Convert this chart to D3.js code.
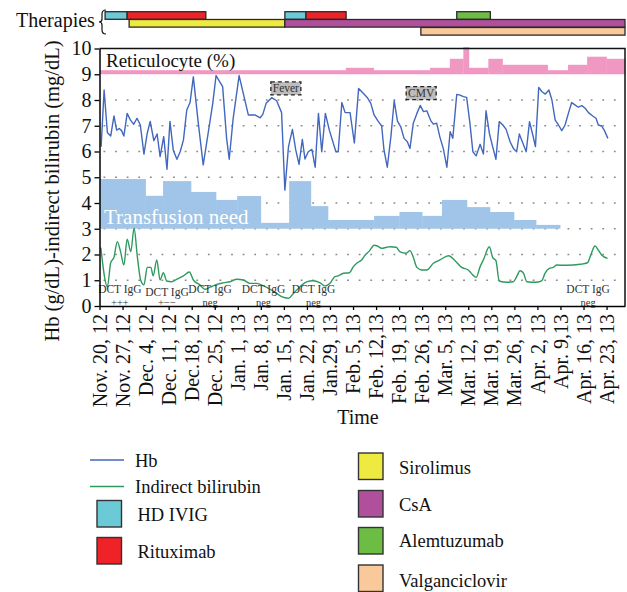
<!DOCTYPE html>
<html>
<head>
<meta charset="utf-8">
<script src="https://cdn.jsdelivr.net/npm/d3@7.9.0/dist/d3.min.js"></script>
<style>
  body { margin: 0; background: #fff; }
  svg { display: block; }
  svg text { font-family: "Liberation Serif", "DejaVu Serif", serif; }
</style>
</head>
<body>
<svg id="chart" width="627" height="592"></svg>
<script>
// ---- data (days counted from Nov. 20, 2012) ----
const START = Date.UTC(2012, 10, 20);
const END_DAY = 159.6;

const xTickLabels = ['Nov. 20, 12', 'Nov. 27, 12', 'Dec. 4, 12', 'Dec. 11, 12', 'Dec.18, 12', 'Dec. 25, 12',
  'Jan. 1, 13', 'Jan. 8, 13', 'Jan. 15, 13', 'Jan. 22, 13', 'Jan.29, 13', 'Feb. 5, 13', 'Feb. 12,13',
  'Feb. 19, 13', 'Feb. 26, 13', 'Mar. 5, 13', 'Mar. 12, 13', 'Mar. 19, 13', 'Mar. 26, 13', 'Apr. 2, 13',
  'Apr. 9,13', 'Apr. 16, 13', 'Apr. 23, 13'];
const yTicks = [0, 1, 2, 3, 4, 5, 6, 7, 8, 9, 10];

const hbDays = [0.5, 1.4, 2.4, 3.4, 4.4, 5.2, 6.0, 6.7, 7.4, 8.4, 9.4, 10.4, 11.4, 12.4, 13.5, 14.5, 15.4, 16.5,
  17.5, 18.4, 19.5, 20.5, 21.4, 22.4, 23.5, 24.5, 25.5, 26.5, 27.5, 28.5, 30.0, 31.5, 33.0, 34.4, 35.4, 37.4,
  38.6, 39.4, 40.6, 42.4, 43.9, 45.2, 47.2, 48.8, 49.6, 50.6, 52.3, 53.8, 55.3, 56.3, 57.4, 58.6, 59.6, 60.6,
  61.6, 62.4, 63.4, 64.5, 65.5, 66.5, 67.5, 68.6, 69.8, 71.8, 72.5, 73.6, 74.6, 76.1, 77.4, 78.7, 80.1, 81.3,
  82.4, 83.4, 84.7, 85.7, 86.4, 87.4, 88.5, 89.5, 90.5, 91.5, 92.5, 93.5, 94.3, 95.3, 96.4, 97.4, 98.4, 99.4,
  100.6, 101.4, 102.4, 103.4, 104.4, 105.5, 106.5, 107.3, 108.5, 109.5, 110.5, 111.5, 112.5, 113.4, 114.4,
  115.6, 116.6, 117.4, 118.4, 119.4, 120.4, 121.4, 122.5, 123.5, 124.7, 125.7, 126.7, 127.5, 128.6, 129.6,
  130.6, 131.6, 132.4, 133.4, 134.4, 135.4, 136.5, 137.4, 138.4, 139.4, 140.4, 141.4, 142.4, 143.4, 144.4,
  145.4, 146.5, 147.5, 148.5, 149.8, 150.8, 151.5, 152.5, 153.3, 154.4];
const hbValues = [6.19, 8.39, 6.73, 6.6, 7.38, 6.83, 6.89, 6.81, 6.6, 7.48, 7.22, 7.06, 7.29, 7.03, 5.9, 6.71, 7.17, 6.42,
  6.68, 5.8, 6.58, 5.31, 7.17, 6.06, 5.7, 5.99, 6.45, 7.61, 7.9, 8.9, 7.1, 5.48, 6.71, 7.87, 8.95, 8.52,
  6.51, 5.7, 7.29, 8.95, 8.13, 7.42, 7.42, 7.31, 7.44, 7.87, 8.09, 7.97, 7.51, 4.5, 6.19, 6.86, 6.06, 5.5,
  6.47, 5.71, 5.99, 6.08, 5.39, 7.48, 5.99, 7.48, 6.83, 5.99, 5.99, 7.9, 7.51, 7.51, 6.33, 8.45, 8.26, 8.1,
  7.87, 7.42, 7.16, 6.99, 6.06, 5.39, 6.58, 7.97, 7.18, 6.96, 6.51, 6.38, 6.12, 7.1, 7.48, 7.79, 7.55, 7.58,
  7.2, 7.06, 7.1, 6.55, 6.12, 5.39, 6.77, 6.51, 8.22, 8.19, 8.13, 8.1, 7.1, 5.99, 5.83,
  6.28, 5.9, 7.58, 6.71, 6.19, 5.7, 7.16, 7.03, 6.86, 6.38, 6.12, 5.99, 6.68, 6.32, 5.99,
  7.16, 6.64, 6.19, 8.49, 8.32, 8.23, 8.39, 8.0, 7.22, 7.03, 6.81, 7.03, 7.48, 7.9, 7.81,
  7.72, 7.78, 7.68, 7.51, 7.38, 7.29, 7.03, 6.99, 6.83, 6.51];

const biliDays = [0.4, 2.4, 3.4, 4.4, 5.4, 6.4, 7.4, 8.4, 9.5, 10.5, 11.5, 12.5, 13.5, 14.5, 15.6, 16.3, 17.4, 18.4,
  19.4, 20.4, 21.9, 23.5, 25.5, 27.3, 28.5, 30.5, 32.0, 33.6, 35.6, 37.6, 39.6, 41.7, 43.7, 45.7, 47.8, 49.8,
  51.8, 53.8, 55.3, 57.4, 58.9, 60.9, 62.9, 64.9, 67.0, 68.5, 70.0, 71.5, 72.5, 74.1, 75.9, 77.1, 78.3, 79.6,
  80.7, 82.0, 83.4, 84.4, 85.7, 87.2, 88.2, 90.1, 91.3, 93.1, 94.3, 95.3, 96.4, 97.9, 99.4, 101.4, 103.4,
  106.0, 108.0, 110.0, 112.0, 113.4, 114.4, 115.6, 116.6, 118.4, 119.4, 120.4, 121.4, 123.7, 125.7, 126.7,
  127.7, 128.7, 129.8, 132.3, 134.3, 135.3, 136.6, 137.8, 138.9, 141.9, 146.0, 148.2, 149.2, 150.5, 151.5,
  152.5, 154.3];
const biliValues = [2.27, 0.75, 1.68, 1.89, 2.5, 2.11, 1.59, 2.59, 2.11, 3.02, 1.91, 1.01, 0.82, 1.5, 1.5, 1.17, 1.79, 1.01,
  1.29, 0.97, 0.94, 1.04, 1.17, 1.32, 1.01, 0.82, 0.65, 0.73, 0.84, 0.9, 0.94, 1.04, 1.01, 0.88, 0.88, 0.78,
  0.65, 0.49, 0.36, 0.3, 0.49, 0.75, 0.94, 0.98, 0.9, 0.78, 0.88, 1.14, 1.17, 1.27, 1.29, 1.53, 1.68, 1.79,
  1.98, 2.14, 2.36, 2.33, 2.24, 2.28, 2.3, 2.28, 2.1, 2.05, 2.15, 1.89, 1.5, 1.4, 1.4, 1.66, 1.79,
  1.95, 1.76, 1.5, 1.4, 1.2, 1.11, 1.53, 1.79, 2.3, 1.89, 1.76, 0.97, 0.92, 0.94, 1.14,
  1.37, 1.29, 0.94, 0.92, 0.98, 1.27, 1.46, 1.5, 1.59, 1.58, 1.62, 1.68, 1.98, 2.33, 2.17,
  1.98, 1.85];

// transfusion need: step blocks sitting on 3, each starts at a day and lasts to the next
const transfusionDays = [0, 14, 19.3, 27.8, 35.4, 41.8, 49, 57.6, 64.2, 69.4, 83.4, 91.1, 98, 104, 111.6, 118.6, 125.9, 132.6, 139.9];
const transfusionValues = [4.93, 4.28, 4.85, 4.43, 4.12, 4.27, 3.23, 4.85, 3.88, 3.34, 3.5, 3.65, 3.5, 4.12, 3.84, 3.65, 3.34, 3.15];
const TRANSFUSION_BASE = 3;

// reticulocyte (%): step blocks sitting on 9
const reticDays = [0, 74.8, 83.3, 100.4, 106.4, 110.5, 112.2, 118.1, 122.4, 136.1, 142.3, 148.1, 154, END_DAY];
const reticValues = [2.7, 4.3, 2.7, 4.3, 10.3, 18.1, 4.3, 10.3, 6.3, 2.7, 6.3, 11.7, 10.3];
const RETIC_BASE = 9;

const therapyNames = ['HD IVIG', 'Rituximab', 'HD IVIG', 'Rituximab', 'Alemtuzumab', 'Sirolimus', 'CsA', 'Valganciclovir'];
const therapyStart = [1.7, 8.4, 56.3, 62.7, 108.5, 9.0, 56.3, 97.6];
const therapyEnd = [8.4, 32.3, 62.7, 74.9, 118.7, 56.3, END_DAY, END_DAY];

const dctDays = [6.2, 20.5, 33.6, 49.8, 65, 148.4];
const dctResults = ['+++', '+\u2212\u2212', 'neg', 'neg', 'neg', 'neg'];
const noteDays = [56.6, 97.7];
const noteValues = [8.45, 8.27];
const noteTexts = ['Fever', 'CMV'];

// ---- styles / layout ----
const FONT = '"Liberation Serif", "DejaVu Serif", serif';
const colors = {
  'HD IVIG': '#6ccad7', 'Rituximab': '#ee2227', 'Sirolimus': '#efea40', 'CsA': '#b0509d',
  'Alemtuzumab': '#6dbd45', 'Valganciclovir': '#f9c99b',
  hb: '#4267be', bili: '#2e9a5e', retic: '#f198c2', transfusion: '#a0c5e9'
};
const lane = { 'HD IVIG': 0, 'Rituximab': 0, 'Alemtuzumab': 0, 'Sirolimus': 1, 'CsA': 1, 'Valganciclovir': 2 };

const dayToDate = d => new Date(START + d * 864e5);

const svg = d3.select('#chart').attr('font-family', FONT);
const x = d3.scaleUtc().domain([dayToDate(0), dayToDate(END_DAY)]).range([99.5, 625]);
const y = d3.scaleLinear().domain([0, 10]).range([306, 48.5]);
const yRetic = d3.scaleLinear().domain([0, 20]).range([y(RETIC_BASE), y(RETIC_BASE) - 30]);
const [x0, x1] = x.range();

// dotted grid
svg.append('g').selectAll('line').data(d3.range(1, 9)).join('line')
  .attr('x1', x0 + 4).attr('x2', x1 - 4)
  .attr('y1', d => y(d)).attr('y2', d => y(d))
  .attr('stroke', '#8a8a8a').attr('stroke-width', 1.6)
  .attr('stroke-dasharray', '1.8,9.8');

// reticulocyte steps
const reticData = reticValues.map((v, i) => ({ a: reticDays[i], b: reticDays[i + 1], v }));
svg.append('g').selectAll('rect').data(reticData).join('rect')
  .attr('x', d => x(dayToDate(d.a))).attr('width', d => x(dayToDate(d.b)) - x(dayToDate(d.a)) + 0.3)
  .attr('y', d => yRetic(d.v)).attr('height', d => yRetic(0) - yRetic(d.v))
  .attr('fill', colors.retic);

// transfusion need steps
const tfData = transfusionValues.map((v, i) => ({ a: transfusionDays[i], b: transfusionDays[i + 1], v }));
svg.append('g').selectAll('rect').data(tfData).join('rect')
  .attr('x', d => x(dayToDate(d.a))).attr('width', d => x(dayToDate(d.b)) - x(dayToDate(d.a)) + 0.3)
  .attr('y', d => y(d.v)).attr('height', d => y(TRANSFUSION_BASE) - y(d.v))
  .attr('fill', colors.transfusion);

svg.append('text').attr('x', 104).attr('y', 224).attr('fill', '#fff')
  .attr('font-size', 21).text('Transfusion need');
svg.append('text').attr('x', 106).attr('y', 67).attr('fill', '#111')
  .attr('font-size', 19).text('Reticulocyte (%)');

// lines
const hbLine = d3.line().x(d => x(dayToDate(d[0]))).y(d => y(d[1]));
svg.append('path').datum(hbDays.map((d, i) => [d, hbValues[i]]))
  .attr('d', hbLine).attr('fill', 'none').attr('stroke', colors.hb).attr('stroke-width', 1.4)
  .attr('stroke-linejoin', 'round');
const biliLine = d3.line().curve(d3.curveMonotoneX).x(d => x(dayToDate(d[0]))).y(d => y(d[1]));
svg.append('path').datum(biliDays.map((d, i) => [d, biliValues[i]]))
  .attr('d', biliLine).attr('fill', 'none').attr('stroke', colors.bili).attr('stroke-width', 1.4);

// Fever / CMV notes
noteTexts.forEach((t, i) => {
  const cx = x(dayToDate(noteDays[i])), cy = y(noteValues[i]);
  svg.append('rect').attr('x', cx - 15).attr('y', cy - 6.5).attr('width', 30).attr('height', 13)
    .attr('fill', '#bdbdbd').attr('stroke', '#222').attr('stroke-width', 1.3).attr('stroke-dasharray', '4,3');
  svg.append('text').attr('x', cx).attr('y', cy + 4).attr('text-anchor', 'middle')
    .attr('font-size', 11.5).attr('fill', '#333').text(t);
});

// DCT IgG notes
dctDays.forEach((d, i) => {
  const cx = x(dayToDate(d));
  const g = svg.append('g').attr('font-size', 11.5).attr('fill', '#333').attr('text-anchor', 'middle');
  g.append('text').attr('x', cx).attr('y', i === 1 ? 296 : 293).text('DCT IgG');
  g.append('text').attr('x', cx).attr('y', 305.5).attr('font-size', 10.5).text(dctResults[i]);
});

// axes
const tickDates = xTickLabels.map((_, i) => dayToDate(i * 7));
const xAxis = svg.append('g').attr('transform', `translate(0,${y(0)})`)
  .call(d3.axisBottom(x).tickValues(tickDates).tickFormat((d, i) => xTickLabels[i]).tickSize(4).tickSizeOuter(0))
  .attr('font-family', FONT);
xAxis.select('.domain').attr('stroke-width', 1.5);
xAxis.selectAll('.tick line').attr('stroke-width', 1.3);
xAxis.selectAll('text').attr('font-size', 20).attr('fill', '#111')
  .attr('transform', 'rotate(-90)').attr('text-anchor', 'end')
  .attr('x', -8).attr('y', 0).attr('dy', '0.33em');

const yAxis = svg.append('g').attr('transform', `translate(${x0},0)`)
  .call(d3.axisLeft(y).tickValues(yTicks).tickSize(5).tickSizeOuter(0).tickPadding(3))
  .attr('font-family', FONT);
yAxis.select('.domain').attr('stroke-width', 1.5);
yAxis.selectAll('.tick line').attr('stroke-width', 1.3);
yAxis.selectAll('text').attr('font-size', 20).attr('fill', '#111');

// frame top/right
svg.append('path').attr('d', `M${x0},${y(10)}H${x1}V${y(0)}`)
  .attr('fill', 'none').attr('stroke', '#111').attr('stroke-width', 1.5);

svg.append('text').attr('transform', `translate(59,191) rotate(-90)`).attr('text-anchor', 'middle')
  .attr('font-size', 20.5).attr('fill', '#111').text('Hb (g/dL)-indirect bilirubin (mg/dL)');
svg.append('text').attr('x', 358).attr('y', 424).attr('text-anchor', 'middle')
  .attr('font-size', 20).attr('fill', '#111').text('Time');

// therapies strip
const laneTop = [11.7, 19.5, 27.5], laneH = 7.6;
svg.append('g').selectAll('rect').data(therapyNames).join('rect')
  .attr('x', (d, i) => x(dayToDate(therapyStart[i])))
  .attr('width', (d, i) => x(dayToDate(therapyEnd[i])) - x(dayToDate(therapyStart[i])))
  .attr('y', d => laneTop[lane[d]]).attr('height', laneH)
  .attr('fill', d => colors[d]).attr('stroke', '#2a2a2a').attr('stroke-width', 1.3);
svg.append('text').attr('x', 16).attr('y', 27).attr('font-size', 20).attr('fill', '#111').text('Therapies');
svg.append('path').attr('d', 'M106,10 Q102,10 102,14 L102,19 Q102,22 99,22 Q102,22 102,25 L102,30 Q102,34 106,34')
  .attr('fill', 'none').attr('stroke', '#111').attr('stroke-width', 1.2);

// legend
const legendLines = [['Hb', colors.hb, 460, 467], ['Indirect bilirubin', colors.bili, 486.5, 492.5]];
legendLines.forEach(([name, c, ly, ty]) => {
  svg.append('line').attr('x1', 90).attr('x2', 124).attr('y1', ly).attr('y2', ly)
    .attr('stroke', c).attr('stroke-width', 1.3);
  svg.append('text').attr('x', 135).attr('y', ty).attr('font-size', 18.5).attr('fill', '#111').text(name);
});
const legendBoxes = [['HD IVIG', 97, 500.5, 521], ['Rituximab', 97, 537.5, 558],
  ['Sirolimus', 358.5, 453, 474], ['CsA', 358.5, 490.5, 511], ['Alemtuzumab', 358.5, 527.5, 547],
  ['Valganciclovir', 358.5, 565, 586.5]];
legendBoxes.forEach(([name, lx, ly, ty]) => {
  svg.append('rect').attr('x', lx).attr('y', ly).attr('width', 24.5).attr('height', 26.5)
    .attr('fill', colors[name]).attr('stroke', '#333').attr('stroke-width', 1.4);
  svg.append('text').attr('x', lx + 40.5).attr('y', ty).attr('font-size', 18.5).attr('fill', '#111').text(name);
});
</script>
</body>
</html>
